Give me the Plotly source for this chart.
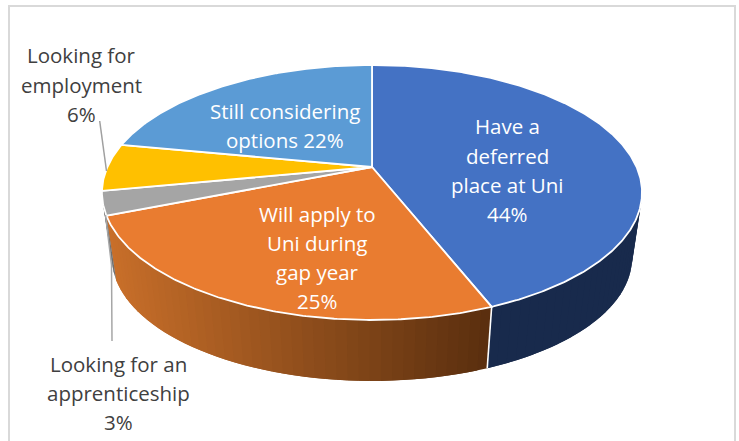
import numpy as np
import plotly.graph_objects as go

# ---- data ----
categories = ["Have a deferred place at Uni", "Will apply to Uni during gap year",
              "Looking for an apprenticeship", "Looking for employment", "Still considering options"]
values = [44, 25, 3, 6, 22]
colors = ["#4472C4", "#E97C30", "#A5A5A5", "#FFC000", "#5B9BD5"]
side_left = [(0x1C, 0x30, 0x55), (0xC8, 0x6F, 0x2A), (0x70, 0x70, 0x70), (0xA0, 0x78, 0x00), (0x2C, 0x50, 0x75)]
side_right = [(0x18, 0x2A, 0x4C), (0x5A, 0x2F, 0x0F), (0x70, 0x70, 0x70), (0xA0, 0x78, 0x00), (0x2C, 0x50, 0x75)]

inner_lines = [("Have a", 507, 126), ("deferred", 507, 156), ("place at Uni", 507, 185), ("44%", 507, 214),
               ("Still considering", 285, 111), ("options 22%", 285, 140),
               ("Will apply to", 317, 214), ("Uni during", 317, 243), ("gap year", 317, 272), ("25%", 317, 301)]
outer_lines = [("Looking for", 81, 55), ("employment", 81, 85), ("6%", 81, 114),
               ("Looking for an", 118, 364), ("apprenticeship", 118, 393), ("3%", 118, 422)]

# ---- projection of the disc ----
CX = 372
TOP = dict(a=264.6, b=122.4, k=0.2, ay=167.0)
BOT = dict(a=254.8, b=117.9, k=0.2, ay=233.6)


def project(theta_deg, p):
    t = np.radians(theta_deg)
    u, v = np.sin(t), np.cos(t)
    d = 1 + p["k"] * v
    return CX + p["a"] * u / d, p["ay"] - p["b"] * v / d


fig = go.Figure()
edges = np.cumsum([0] + values) * 3.6
EXT_R, EXT_L = 101.5, 258.5


def lerp(c0, c1, f):
    return "rgb(%d,%d,%d)" % tuple(c0[i] + (c1[i] - c0[i]) * f for i in range(3))


# side wall, painted as overlapping strips (each later strip covers the rest of its slice)
for i in range(len(values)):
    s2, e2 = max(edges[i], EXT_R), min(edges[i + 1], EXT_L)
    if e2 <= s2:
        continue
    n = max(1, int((e2 - s2) / 2.0))
    th = np.linspace(s2, e2, n + 1)
    for a, b in zip(th[:-1], th[1:]):
        ang = np.linspace(a, min(b + 2.0, e2), 4)
        x1, y1 = project(ang, TOP)
        x2, y2 = project(ang[::-1], BOT)
        xm = project((a + b) / 2, TOP)[0]
        f = np.clip((490 - xm) / (490 - 110), 0, 1)
        col = lerp(side_right[i], side_left[i], f)
        fig.add_trace(go.Scatter(x=np.r_[x1, x2, x1[0]], y=np.r_[y1, y2, y1[0]], mode="lines", fill="toself",
                                 fillcolor=col, line=dict(color=col, width=0), hoverinfo="skip", showlegend=False))

# white divider on the wall between first two slices
xd = [project(edges[1], TOP)[0], project(edges[1], BOT)[0]]
yd = [project(edges[1], TOP)[1], project(edges[1], BOT)[1]]
fig.add_trace(go.Scatter(x=xd, y=yd, mode="lines", line=dict(color="white", width=1.6), hoverinfo="skip", showlegend=False))

# top face
for i, (s, e) in enumerate(zip(edges[:-1], edges[1:])):
    th = np.linspace(s, e, max(3, int(e - s)) * 2)
    x, y = project(th, TOP)
    ax, ay = CX, TOP["ay"]
    fig.add_trace(go.Scatter(x=np.r_[ax, x, ax], y=np.r_[ay, y, ay], mode="lines", fill="toself", name=categories[i],
                             fillcolor=colors[i], line=dict(color="white", width=1.8), hoverinfo="skip", showlegend=False))

# leader lines
fig.add_trace(go.Scatter(x=[99.7, 106.5], y=[121, 171], mode="lines", line=dict(color="#A0A0A0", width=1.5),
                         hoverinfo="skip", showlegend=False))
fig.add_trace(go.Scatter(x=[105.5, 111.5, 112], y=[215, 265, 341], mode="lines", line=dict(color="#A6A6A6", width=1.5),
                         hoverinfo="skip", showlegend=False))

for t, x, y in inner_lines:
    fig.add_annotation(x=x, y=y, text=t, showarrow=False, xanchor="center", yanchor="middle",
                       font=dict(family="Open Sans", size=20.5, color="white"))
for t, x, y in outer_lines:
    fig.add_annotation(x=x, y=y, text=t, showarrow=False, xanchor="center", yanchor="middle",
                       font=dict(family="Open Sans", size=20.5, color="#404040"))

# chart frame
fig.add_shape(type="rect", x0=9, y0=6, x1=735, y1=460, line=dict(color="#D9D9D9", width=2), layer="below")

fig.update_xaxes(range=[0, 739], visible=False, fixedrange=True)
fig.update_yaxes(range=[441, 0], visible=False, fixedrange=True)
fig.update_layout(width=739, height=441, margin=dict(l=0, r=0, t=0, b=0),
                  paper_bgcolor="white", plot_bgcolor="white", showlegend=False)
fig.write_html("out.html", config={"displayModeBar": False}, post_script="document.body.style.margin='0';")
